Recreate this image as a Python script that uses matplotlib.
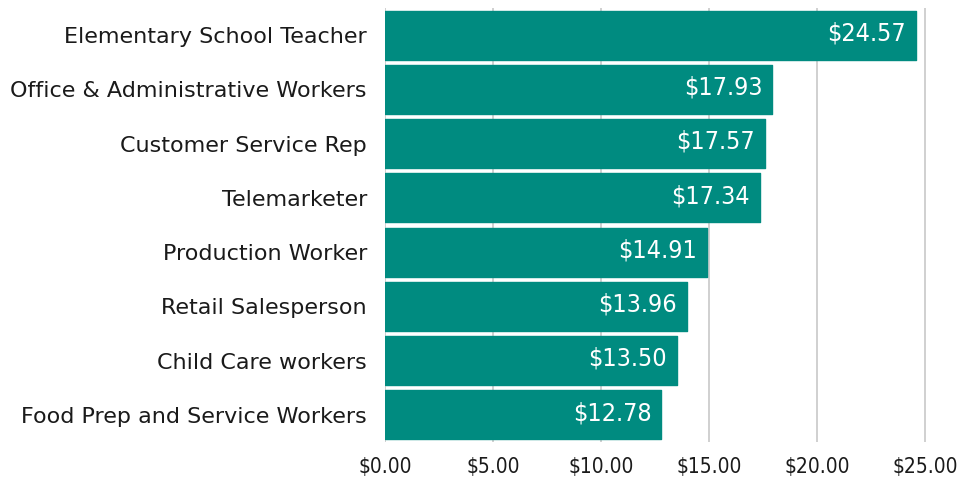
import matplotlib.pyplot as plt

jobs = [
    "Elementary School Teacher",
    "Office & Administrative Workers",
    "Customer Service Rep",
    "Telemarketer",
    "Production Worker",
    "Retail Salesperson",
    "Child Care workers",
    "Food Prep and Service Workers",
]
wages = [24.57, 17.93, 17.57, 17.34, 14.91, 13.96, 13.50, 12.78]
ticks = [0, 5, 10, 15, 20, 25]


def main():
    plt.rcParams['font.family'] = ['DejaVu Sans']
    fig = plt.figure(figsize=(9.64, 4.8), dpi=100)
    ax = fig.add_axes([385 / 964, 38 / 480, 560 / 964, 434 / 480])

    teal = '#008b80'
    pos = list(range(len(jobs)))
    bars = ax.barh(pos, wages, height=0.9, color=teal, edgecolor=teal,
                   linewidth=1.0, joinstyle='round', zorder=3)
    ax.set_ylim(len(jobs) - 0.5, -0.5)
    ax.set_xlim(0, 25 * 560 / 540)

    for b, w in zip(bars, wages):
        ax.text(w - 0.45, b.get_y() + b.get_height() / 2 - 0.03, "$%.2f" % w,
                color='white', fontsize=18, fontstretch='condensed',
                ha='right', va='center', zorder=4)

    ax.set_yticks(pos)
    ax.set_yticklabels(jobs, fontsize=16, color='#1a1a1a')
    ax.set_xticks(ticks)
    ax.set_xticklabels(["$%.2f" % t for t in ticks], fontsize=15,
                       fontstretch='condensed', color='#1a1a1a')
    ax.tick_params(length=0)
    ax.tick_params(axis='x', pad=11)
    ax.tick_params(axis='y', pad=13)
    ax.grid(axis='x', color='#c8c8c8', linewidth=1.2, zorder=0)
    for s in ax.spines.values():
        s.set_visible(False)

    fig.savefig('out.png')


if __name__ == "__main__":
    main()
